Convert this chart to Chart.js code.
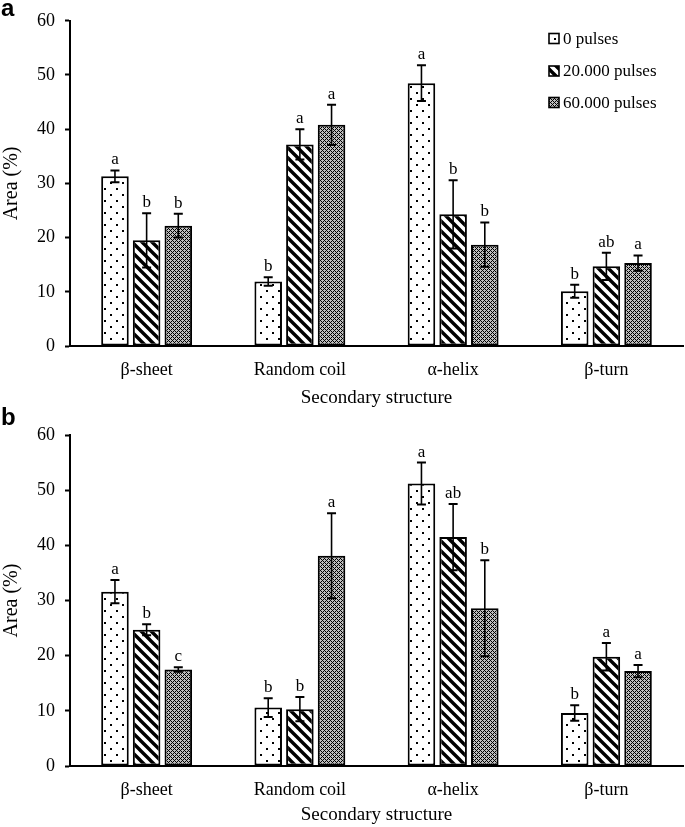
<!DOCTYPE html>
<html lang="en">
<head>
  <meta charset="UTF-8">
  <title>Secondary structure area</title>
  <script src="https://cdn.jsdelivr.net/npm/chart.js"></script>
  <style>
    body {
      margin: 0;
      background-color: white;
      width: 685px;
      height: 827px;
      position: relative;
      overflow: hidden;
    }
    .panel {
      position: absolute;
      left: 0;
      width: 685px;
    }
    .tag {
      position: absolute;
      left: 1px;
      font-family: "Liberation Sans", Arial, sans-serif;
      font-weight: bold;
      font-size: 24px;
      line-height: 24px;
    }
  </style>
</head>
<body>
  <div class="panel" style="top:0;height:410px"><canvas id="chartA" width="685" height="410"></canvas></div>
  <div class="panel" style="top:410px;height:417px"><canvas id="chartB" width="685" height="417"></canvas></div>
  <div class="tag" style="top:-4px">a</div>
  <div class="tag" style="top:405px">b</div>

  <script>
    const categories = ['β-sheet', 'Random coil', 'α-helix', 'β-turn'];
    const seriesLabels = ['0 pulses', '20.000 pulses', '60.000 pulses'];
    const yTicks = [0, 10, 20, 30, 40, 50, 60];

    // panel a
    const a0 = [31.3, 11.9, 48.5, 10.1];
    const a20 = [19.5, 37.2, 24.3, 14.7];
    const a60 = [22.2, 40.8, 18.7, 15.3];
    const a0Err = [1.1, 0.8, 3.3, 1.2];
    const a20Err = [5.0, 2.8, 6.3, 2.5];
    const a60Err = [2.2, 3.7, 4.1, 1.4];
    const a0Sig = ['a', 'b', 'a', 'b'];
    const a20Sig = ['b', 'a', 'b', 'ab'];
    const a60Sig = ['b', 'a', 'b', 'a'];

    // panel b
    const b0 = [31.6, 10.6, 51.2, 9.6];
    const b20 = [24.7, 10.3, 41.5, 19.8];
    const b60 = [17.5, 38.1, 28.6, 17.2];
    const b0Err = [2.1, 1.7, 3.8, 1.4];
    const b20Err = [1.0, 2.2, 6.0, 2.5];
    const b60Err = [0.4, 7.7, 8.7, 1.1];
    const b0Sig = ['a', 'b', 'a', 'b'];
    const b20Sig = ['b', 'b', 'ab', 'a'];
    const b60Sig = ['c', 'a', 'b', 'a'];

    const serif = "'Liberation Serif', 'Times New Roman', serif";
    Chart.defaults.color = '#000';
    Chart.defaults.font.family = serif;

    function tile(w, h, draw) {
      const c = document.createElement('canvas');
      c.width = w;
      c.height = h;
      const g = c.getContext('2d');
      g.fillStyle = '#fff';
      g.fillRect(0, 0, w, h);
      draw(g);
      return c.getContext('2d').createPattern(c, 'repeat');
    }

    const dots = tile(12, 12, g => {
      g.fillStyle = '#000';
      g.fillRect(2, 2, 2, 2);
      g.fillRect(8, 8, 2, 2);
    });
    const stripes = tile(10, 10, g => {
      g.strokeStyle = '#000';
      g.lineWidth = 3.4;
      g.beginPath();
      g.moveTo(-5, -5); g.lineTo(15, 15);
      g.moveTo(-15, -5); g.lineTo(5, 15);
      g.moveTo(5, -5); g.lineTo(25, 15);
      g.stroke();
    });
    // fine diagonal lattice, reads as grey
    const hatch = tile(4, 4, g => {
      g.fillStyle = '#000';
      for (let x = 0; x < 4; x++) {
        for (let y = 0; y < 4; y++) {
          if ((x + y) % 4 === 0 || (x - y + 4) % 4 === 0) g.fillRect(x, y, 1, 1);
        }
      }
      g.fillStyle = 'rgba(0,0,0,0.25)';
      g.fillRect(0, 0, 4, 4);
    });
    const fills = [dots, stripes, hatch];

    function makeErrPlugin(errs, sigs) {
      return {
        id: 'errbars',
        afterDatasetsDraw(chart) {
          const ctx = chart.ctx;
          const y = chart.scales.y;
          ctx.save();
          chart.data.datasets.forEach((ds, i) => {
            const meta = chart.getDatasetMeta(i);
            meta.data.forEach((bar, j) => {
              const v = ds.data[j];
              const e = errs[i][j];
              const top = y.getPixelForValue(v + e);
              const bot = y.getPixelForValue(v - e);
              ctx.strokeStyle = '#000';
              ctx.lineWidth = 1.6;
              ctx.beginPath();
              ctx.moveTo(bar.x, top); ctx.lineTo(bar.x, bot);
              ctx.stroke();
              ctx.lineWidth = 2;
              ctx.beginPath();
              ctx.moveTo(bar.x - 4.5, top); ctx.lineTo(bar.x + 4.5, top);
              ctx.moveTo(bar.x - 4.5, bot); ctx.lineTo(bar.x + 4.5, bot);
              ctx.stroke();
              ctx.fillStyle = '#000';
              ctx.font = '17px ' + serif;
              ctx.textAlign = 'center';
              ctx.textBaseline = 'bottom';
              ctx.fillText(sigs[i][j], bar.x, top - 2);
            });
          });
          ctx.restore();
        }
      };
    }

    const legendPlugin = {
      id: 'boxLegend',
      afterDraw(chart) {
        const ctx = chart.ctx;
        const rows = [38.5, 71, 102.5];
        ctx.save();
        chart.data.datasets.forEach((ds, i) => {
          const cy = rows[i];
          ctx.fillStyle = ds.backgroundColor;
          ctx.fillRect(549, cy - 5, 10, 10);
          ctx.strokeStyle = '#000';
          ctx.lineWidth = 1.6;
          ctx.strokeRect(549, cy - 5, 10, 10);
          ctx.fillStyle = '#000';
          ctx.font = '17px ' + serif;
          ctx.textAlign = 'left';
          ctx.textBaseline = 'middle';
          ctx.fillText(ds.label, 563, cy + 1);
        });
        ctx.restore();
      }
    };

    function makeChart(id, series, errs, sigs, padTop, xHeight, titlePad, withLegend) {
      const plugins = [makeErrPlugin(errs, sigs)];
      if (withLegend) plugins.push(legendPlugin);
      return new Chart(document.getElementById(id), {
        type: 'bar',
        data: {
          labels: categories,
          datasets: series.map((d, i) => ({
            label: seriesLabels[i],
            data: d,
            backgroundColor: fills[i],
            borderColor: '#000',
            borderWidth: 2,
            borderSkipped: false,
            categoryPercentage: 0.62,
            barPercentage: 0.87
          }))
        },
        options: {
          responsive: false,
          animation: false,
          layout: { padding: { top: padTop, right: 2, left: 0, bottom: 0 } },
          plugins: {
            legend: { display: false },
            tooltip: { enabled: false }
          },
          scales: {
            x: {
              afterFit(scale) { scale.height = xHeight; },
              grid: { display: false },
              border: { color: '#000', width: 2 },
              ticks: { padding: 5, font: { size: 18 } },
              title: {
                display: true,
                text: 'Secondary structure',
                font: { size: 19 },
                padding: { top: 0, bottom: titlePad }
              }
            },
            y: {
              min: 0,
              max: 60,
              afterFit(scale) { scale.width = 70; },
              afterBuildTicks(scale) { scale.ticks = yTicks.map(v => ({ value: v })); },
              grid: {
                drawOnChartArea: false,
                drawTicks: true,
                tickLength: 5,
                tickColor: '#000',
                tickWidth: 2
              },
              border: { color: '#000', width: 2 },
              ticks: { padding: 10, font: { size: 18 } },
              title: {
                display: true,
                text: 'Area (%)',
                font: { size: 20 },
                padding: { top: 0, bottom: 0 }
              }
            }
          }
        },
        plugins: plugins
      });
    }

    makeChart('chartA', [a0, a20, a60], [a0Err, a20Err, a60Err], [a0Sig, a20Sig, a60Sig], 15, 64, 1, true);
    makeChart('chartB', [b0, b20, b60], [b0Err, b20Err, b60Err], [b0Sig, b20Sig, b60Sig], 25, 61, 1, false);
  </script>
</body>
</html>
